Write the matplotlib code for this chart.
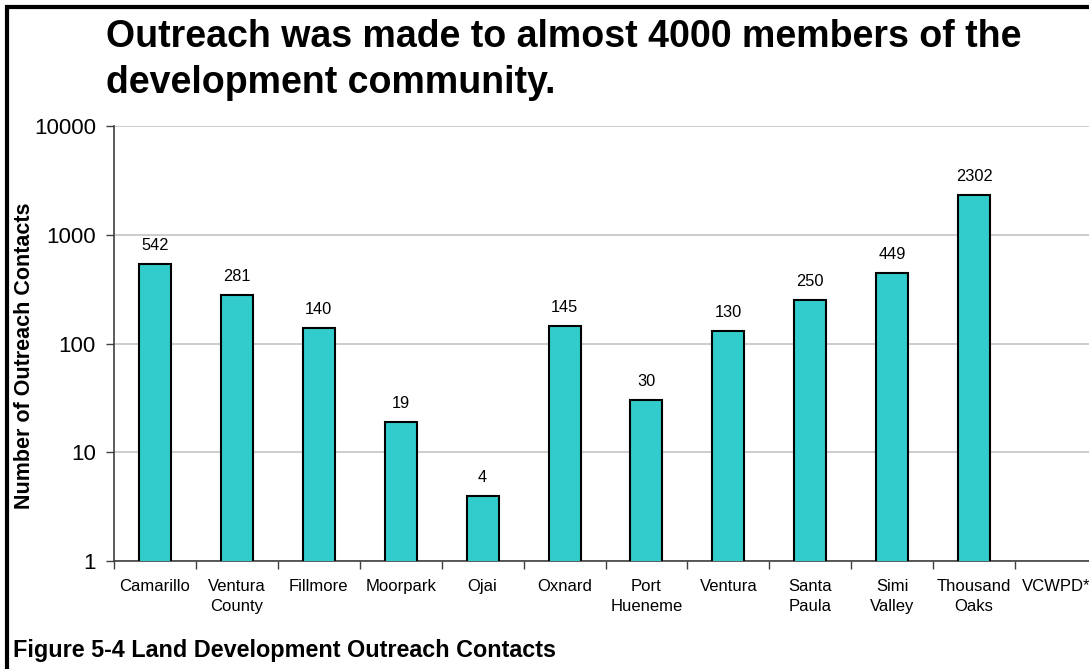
import numpy as np
import matplotlib.pyplot as plt
from matplotlib.patches import Rectangle
from matplotlib.ticker import FixedLocator, NullLocator

plt.rcParams['font.family'] = ['Liberation Sans', 'DejaVu Sans']

# contacts per jurisdiction
places = ['Camarillo', 'Ventura\nCounty', 'Fillmore', 'Moorpark', 'Ojai', 'Oxnard',
          'Port\nHueneme', 'Ventura', 'Santa\nPaula', 'Simi\nValley', 'Thousand\nOaks', 'VCWPD*']
contacts = [542, 281, 140, 19, 4, 145, 30, 130, 250, 449, 2302, np.nan]
y_ticks = [1, 10, 100, 1000, 10000]

W, H = 1089, 669
fig = plt.figure(figsize=(W / 100, H / 100), dpi=100)

# plot area (the right end runs off the page)
ax = fig.add_axes([114 / W, (H - 561) / H, (1097 - 114) / W, (561 - 126) / H])
x = np.arange(len(places))
ax.bar(x, contacts, width=0.39, color='#33CCCC', edgecolor='black', linewidth=1.5, zorder=3)
ax.set_yscale('log')
ax.set_ylim(1, 10000)
ax.set_xlim(-0.5, len(places) - 0.5)

ax.yaxis.set_major_locator(FixedLocator(y_ticks))
ax.yaxis.set_minor_locator(NullLocator())
ax.set_yticklabels([str(v) for v in y_ticks], fontsize=16)
ax.tick_params(axis='y', direction='out', length=6, width=1, color='#404040', pad=7)
ax.grid(axis='y', color='#C8C8C8', linewidth=1.3, zorder=0)

ax.set_xticks(x)
ax.set_xticklabels(places, fontsize=12, linespacing=1.45, va='top')
ax.tick_params(axis='x', which='major', length=0, pad=13)
ax.set_xticks(np.arange(-0.5, len(places)), minor=True)
ax.tick_params(axis='x', which='minor', direction='out', length=6, width=1, color='#404040')

for s in ['top', 'right']:
    ax.spines[s].set_visible(False)
ax.spines['left'].set_color('#404040')
ax.spines['bottom'].set_color('#404040')
ax.spines['left'].set_linewidth(1.2)
ax.spines['bottom'].set_linewidth(1.2)

for xi, v in zip(x, contacts):
    if np.isfinite(v):
        ax.annotate(str(v), (xi, v), xytext=(0, 14), textcoords='offset pixels',
                    ha='center', va='baseline', fontsize=11.8)

ax.set_ylabel('Number of Outreach Contacts', fontsize=15.5, fontweight='bold')
ax.yaxis.set_label_coords((35 - 114) / 983, (561 - 356) / 435)

fig.text(106 / W, (H - 47) / H, 'Outreach was made to almost 4000 members of the',
         fontsize=27, fontweight='bold', va='baseline', ha='left')
fig.text(106 / W, (H - 93) / H, 'development community.',
         fontsize=27, fontweight='bold', va='baseline', ha='left')
fig.text(13 / W, (H - 657) / H, 'Figure 5-4 Land Development Outreach Contacts',
         fontsize=16.8, fontweight='bold', va='baseline', ha='left')

# outer frame
fig.add_artist(Rectangle((7 / W, -0.1), 1.2, (H - 7) / H + 0.1, transform=fig.transFigure,
                         fill=False, edgecolor='black', linewidth=3))

fig.savefig('out.png', dpi=100)
